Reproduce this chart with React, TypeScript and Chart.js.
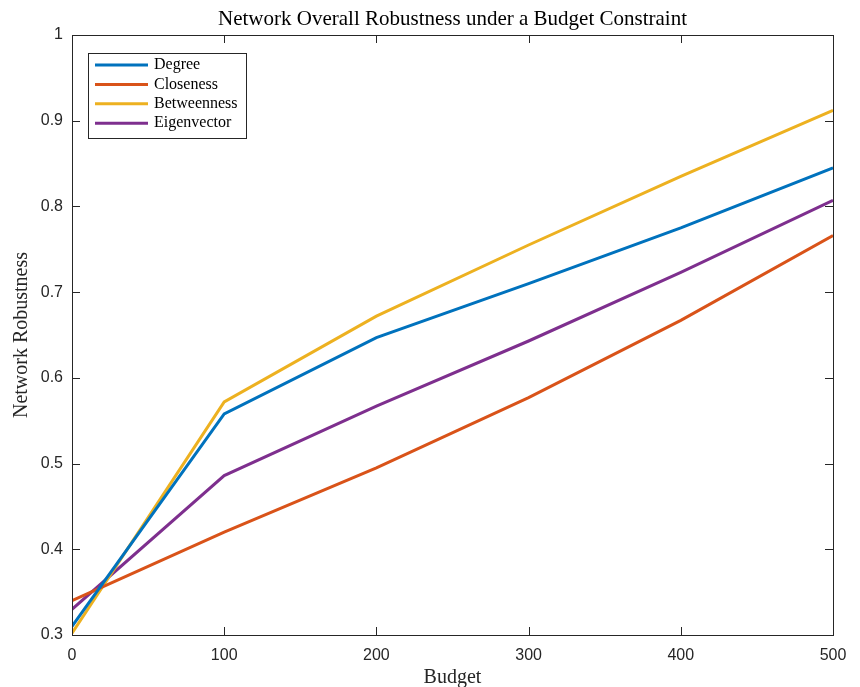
import React, { useEffect, useRef } from "react";
import { Chart, registerables } from "chart.js";

Chart.register(...registerables);

const budgets = [0, 100, 200, 300, 400, 500];
const degree = [0.310, 0.558, 0.647, 0.710, 0.775, 0.845];
const closeness = [0.340, 0.420, 0.495, 0.577, 0.667, 0.766];
const betweenness = [0.302, 0.572, 0.672, 0.755, 0.835, 0.912];
const eigenvector = [0.330, 0.486, 0.567, 0.643, 0.723, 0.807];

const seriesNames = ["Degree", "Closeness", "Betweenness", "Eigenvector"];
const seriesColors = ["#0072BD", "#D95319", "#EDB120", "#7E2F8E"];
const xTicks = [0, 100, 200, 300, 400, 500];
const yTicks = [0.3, 0.4, 0.5, 0.6, 0.7, 0.8, 0.9, 1.0];

const titleText = "Network Overall Robustness under a Budget Constraint";
const xLabel = "Budget";
const yLabel = "Network Robustness";

const AX = "#262626";
const SERIF = "'Liberation Serif', 'DejaVu Serif', serif";
const SANS = "'Liberation Sans', Arial, sans-serif";

const matlabPlugin = {
  id: "matlabAxes",
  afterDraw(chart: any) {
    const ctx = chart.ctx;
    const { left, right, top, bottom } = chart.chartArea;
    const xs = chart.scales.x;
    const ys = chart.scales.y;
    ctx.save();
    // box
    ctx.strokeStyle = AX;
    ctx.lineWidth = 1;
    ctx.strokeRect(Math.round(left) + 0.5, Math.round(top) + 0.5, Math.round(right - left), Math.round(bottom - top));
    const tl = 8;
    ctx.beginPath();
    xTicks.forEach((v) => {
      const px = Math.round(xs.getPixelForValue(v)) + 0.5;
      ctx.moveTo(px, bottom);
      ctx.lineTo(px, bottom - tl);
      ctx.moveTo(px, top);
      ctx.lineTo(px, top + tl);
    });
    yTicks.forEach((v) => {
      const py = Math.round(ys.getPixelForValue(v)) + 0.5;
      ctx.moveTo(left, py);
      ctx.lineTo(left + tl, py);
      ctx.moveTo(right, py);
      ctx.lineTo(right - tl, py);
    });
    ctx.stroke();

    // title
    ctx.fillStyle = "#000";
    ctx.font = `21px ${SERIF}`;
    ctx.textAlign = "center";
    ctx.textBaseline = "middle";
    ctx.fillText(titleText, (left + right) / 2, 19);

    // axis labels
    ctx.font = `20px ${SERIF}`;
    ctx.fillStyle = AX;
    ctx.fillText(xLabel, (left + right) / 2, 678);
    ctx.save();
    ctx.translate(22, (top + bottom) / 2);
    ctx.rotate(-Math.PI / 2);
    ctx.fillText(yLabel, 0, 0);
    ctx.restore();

    // legend
    const lx = left + 16;
    const ly = top + 18;
    const lw = 158;
    const lh = 85;
    ctx.fillStyle = "#fff";
    ctx.fillRect(lx, ly, lw, lh);
    ctx.strokeStyle = AX;
    ctx.lineWidth = 1;
    ctx.strokeRect(Math.round(lx) + 0.5, Math.round(ly) + 0.5, lw, lh);
    ctx.font = `16px ${SERIF}`;
    ctx.textAlign = "left";
    ctx.textBaseline = "middle";
    chart.data.datasets.forEach((ds: any, i: number) => {
      const ry = ly + 12 + i * 19.4;
      ctx.strokeStyle = ds.borderColor;
      ctx.lineWidth = 3;
      ctx.beginPath();
      ctx.moveTo(lx + 7, ry);
      ctx.lineTo(lx + 60, ry);
      ctx.stroke();
      ctx.fillStyle = "#000";
      ctx.fillText(ds.label, lx + 66, ry);
    });
    ctx.restore();
  },
};

export default function App() {
  const ref = useRef<HTMLCanvasElement | null>(null);
  useEffect(() => {
    document.body.style.margin = "0";
    const series = [degree, closeness, betweenness, eigenvector];
    const chart = new Chart(ref.current as HTMLCanvasElement, {
      type: "line",
      data: {
        datasets: series.map((vals, i) => ({
          label: seriesNames[i],
          data: budgets.map((b, j) => ({ x: b, y: vals[j] })),
          borderColor: seriesColors[i],
          backgroundColor: seriesColors[i],
          borderWidth: 3,
          pointRadius: 0,
          tension: 0,
          fill: false,
        })),
      },
      options: {
        responsive: false,
        animation: false,
        devicePixelRatio: 1,
        layout: { padding: { top: 35, right: 27, left: 0, bottom: 0 } },
        plugins: {
          legend: { display: false },
          title: { display: false },
          tooltip: { enabled: false },
        },
        scales: {
          x: {
            type: "linear",
            min: 0,
            max: 500,
            afterFit: (s: any) => {
              s.height = 52;
            },
            afterBuildTicks: (s: any) => {
              s.ticks = xTicks.map((v) => ({ value: v }));
            },
            grid: { display: false, drawTicks: false },
            border: { display: false },
            ticks: {
              color: AX,
              font: { family: SANS, size: 16 },
              padding: 11,
              maxRotation: 0,
              autoSkip: false,
            },
          },
          y: {
            type: "linear",
            min: 0.3,
            max: 1,
            afterFit: (s: any) => {
              s.width = 72;
            },
            afterBuildTicks: (s: any) => {
              s.ticks = yTicks.map((v) => ({ value: v }));
            },
            grid: { display: false, drawTicks: false },
            border: { display: false },
            ticks: {
              color: AX,
              font: { family: SANS, size: 16 },
              padding: 9,
              autoSkip: false,
              callback: (v: any) => String(Number(Number(v).toFixed(1))),
            },
          },
        },
      },
      plugins: [matlabPlugin],
    });
    return () => chart.destroy();
  }, []);
  return <canvas ref={ref} width={860} height={687} style={{ display: "block" }} />;
}
